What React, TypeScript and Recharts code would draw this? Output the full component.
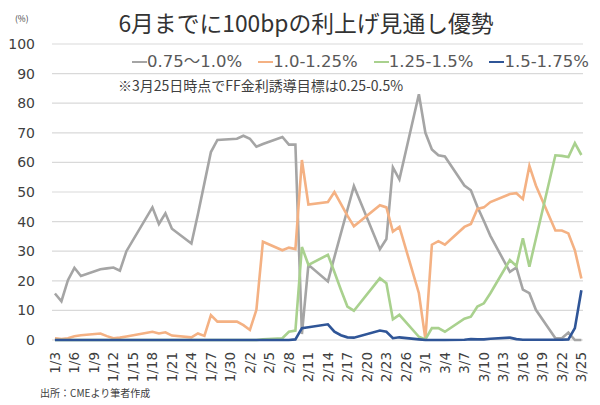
import { LineChart, Line, XAxis, YAxis, CartesianGrid } from 'recharts'

// business days 2022/1/3 - 3/25 (holidays skipped)
const dates = [
  '1/3', '1/4', '1/5', '1/6', '1/7', '1/10', '1/11', '1/12', '1/13', '1/14',
  '1/18', '1/19', '1/20', '1/21', '1/24', '1/25', '1/26', '1/27', '1/28', '1/31',
  '2/1', '2/2', '2/3', '2/4', '2/7', '2/8', '2/9', '2/10', '2/11', '2/14',
  '2/15', '2/16', '2/17', '2/18', '2/22', '2/23', '2/24', '2/25', '2/28',
  '3/1', '3/2', '3/3', '3/4', '3/7', '3/8', '3/9', '3/10', '3/11', '3/14',
  '3/15', '3/16', '3/17', '3/18', '3/21', '3/22', '3/23', '3/24', '3/25',
]

const rate075 = [
  15.7, 13.1, 20.2, 24.4, 21.6, 23.9, 24.2, 24.5, 23.4, 30.0,
  44.8, 39.2, 42.8, 37.6, 32.6, 42.5, 53.0, 63.5, 67.6, 68.0,
  69.0, 68.0, 65.3, 66.2, 68.6, 66.0, 66.0, 2.0, 25.4, 19.8,
  28.0, 36.0, 44.0, 52.0, 30.7, 34.1, 58.3, 54.3, 83.0,
  70.0, 64.4, 62.4, 62.0, 52.2, 50.6, 45.0, 40.2, 35.2, 23.0,
  24.5, 17.0, 15.8, 10.2, 0.6, 0.6, 2.5, 0.0, 0.0,
]

const rate100 = [
  0.6, 0.3, 0.6, 1.3, 1.6, 2.2, 1.3, 0.6, 0.8, 1.2,
  2.8, 2.2, 2.6, 1.5, 0.9, 2.2, 1.4, 8.4, 6.2, 6.2,
  5.0, 3.4, 10.2, 33.2, 30.3, 31.2, 30.7, 60.8, 45.8, 46.6,
  50.0, 46.0, 42.0, 38.4, 45.5, 44.8, 36.6, 38.2, 15.8,
  0.3, 32.2, 33.4, 32.2, 38.2, 39.2, 44.3, 44.8, 46.6, 49.3,
  49.6, 47.6, 58.8, 52.2, 37.0, 37.0, 36.0, 30.3, 20.8,
]

const rate125 = [
  0, 0, 0, 0, 0, 0, 0, 0, 0, 0,
  0, 0, 0, 0, 0, 0, 0, 0, 0, 0,
  0, 0, 0, 0.2, 0.6, 2.8, 3.2, 31.4, 25.4, 28.8,
  23.0, 17.0, 11.3, 9.9, 20.9, 19.2, 7.0, 8.5, 1.1,
  0.2, 4.0, 4.0, 2.8, 7.2, 7.9, 11.3, 12.4, 15.8, 27.0,
  25.0, 34.4, 24.8, 34.2, 62.4, 62.2, 61.8, 66.5, 62.5,
]

const rate150 = [
  0, 0, 0, 0, 0, 0, 0, 0, 0, 0,
  0, 0, 0, 0, 0, 0, 0, 0, 0, 0,
  0, 0, 0, 0, 0, 0, 0.2, 4.0, 4.3, 5.3,
  2.8, 1.6, 0.9, 0.8, 3.2, 2.8, 0.6, 0.9, 0.2,
  0, 0, 0, 0, 0.1, 0.3, 0.2, 0.2, 0.4, 0.8,
  0.3, 0.1, 0.1, 0.1, 0.1, 0.1, 0.2, 4.0, 16.8,
]

const xTickLabels = [
  '1/3', '1/6', '1/9', '1/12', '1/15', '1/18', '1/21', '1/24', '1/27', '1/30',
  '2/2', '2/5', '2/8', '2/11', '2/14', '2/17', '2/20', '2/23', '2/26',
  '3/1', '3/4', '3/7', '3/10', '3/13', '3/16', '3/19', '3/22', '3/25',
]
const yTicks = [0, 10, 20, 30, 40, 50, 60, 70, 80, 90, 100]

const series = [
  { key: 'a', name: '0.75〜1.0%', color: '#a5a5a5', values: rate075 },
  { key: 'b', name: '1.0-1.25%', color: '#f4b183', values: rate100 },
  { key: 'c', name: '1.25-1.5%', color: '#a9d18e', values: rate125 },
  { key: 'd', name: '1.5-1.75%', color: '#2f5597', values: rate150 },
]

// days since 1/3 (date axis)
const dayOf = (s: string) => {
  const [m, d] = s.split('/').map(Number)
  return [0, 31, 59][m - 1] + d - 3
}

const data = dates.map((s, i) => {
  const row: Record<string, number | string> = { day: dayOf(s), label: s }
  series.forEach((se) => {
    row[se.key] = se.values[i]
  })
  return row
})

const tickDays = xTickLabels.map(dayOf)
const labelByDay: Record<number, string> = {}
xTickLabels.forEach((l) => {
  labelByDay[dayOf(l)] = l
})

const numFont = '"DejaVu Sans", "Noto Sans CJK JP", sans-serif'
const jpFont = '"Noto Sans CJK JP", sans-serif'
const textColor = '#404040'

function DateTick({ x, y, payload }: any) {
  const yy = y + 4
  return (
    <text
      x={x}
      y={yy}
      transform={`rotate(-90, ${x}, ${yy})`}
      textAnchor="end"
      dy="0.36em"
      fontSize={13.5}
      fill={textColor}
      fontFamily={numFont}
    >
      {labelByDay[payload.value]}
    </text>
  )
}

export default function App() {
  return (
    <div style={{ position: 'absolute', left: 0, top: 0, width: 600, height: 405, background: '#fff' }}>
      <div style={{ position: 'absolute', left: 15, top: 12, fontSize: 8.5, color: textColor, fontFamily: jpFont }}>(%)</div>
      <div
        style={{
          position: 'absolute', left: 0, top: 8, width: 612, textAlign: 'center',
          fontSize: 22.8, lineHeight: '30px', color: '#333', fontFamily: jpFont,
        }}
      >
        6月までに100bpの利上げ見通し優勢
      </div>
      <LineChart
        width={600}
        height={405}
        data={data}
        margin={{ top: 44, right: 17, bottom: 0, left: 0 }}
      >
        <CartesianGrid vertical={false} stroke="#d9d9d9" strokeWidth={1.2} />
        <XAxis
          dataKey="day"
          type="number"
          domain={[-0.45, 81.25]}
          ticks={tickDays}
          interval={0}
          height={65}
          axisLine={false}
          tickLine={false}
          tick={<DateTick />}
        />
        <YAxis
          domain={[0, 100]}
          ticks={yTicks}
          width={52}
          axisLine={false}
          tickLine={false}
          tickMargin={11}
          tick={{ fontSize: 14, fill: textColor, fontFamily: numFont }}
        />
        {series.map((se) => (
          <Line
            key={se.key}
            dataKey={se.key}
            name={se.name}
            type="linear"
            stroke={se.color}
            strokeWidth={2.6}
            dot={false}
            isAnimationActive={false}
          />
        ))}
      </LineChart>
      <div
        style={{
          position: 'absolute', left: 132, top: 51, display: 'flex', gap: 16,
          fontSize: 16.5, lineHeight: '22px', color: '#595959', fontFamily: numFont,
        }}
      >
        {series.map((se) => (
          <div key={se.key} style={{ display: 'flex', alignItems: 'center' }}>
            <span style={{ display: 'inline-block', width: 15, height: 2.5, background: se.color }} />
            <span>{se.name}</span>
          </div>
        ))}
      </div>
      <div style={{ position: 'absolute', left: 118, top: 75, fontSize: 14, lineHeight: '20px', color: textColor, fontFamily: jpFont }}>
        ※3月25日時点でFF金利誘導目標は0.25-0.5%
      </div>
      <div style={{ position: 'absolute', left: 40, top: 386, fontSize: 10, lineHeight: '14px', color: textColor, fontFamily: jpFont }}>
        出所：CMEより筆者作成
      </div>
    </div>
  )
}
